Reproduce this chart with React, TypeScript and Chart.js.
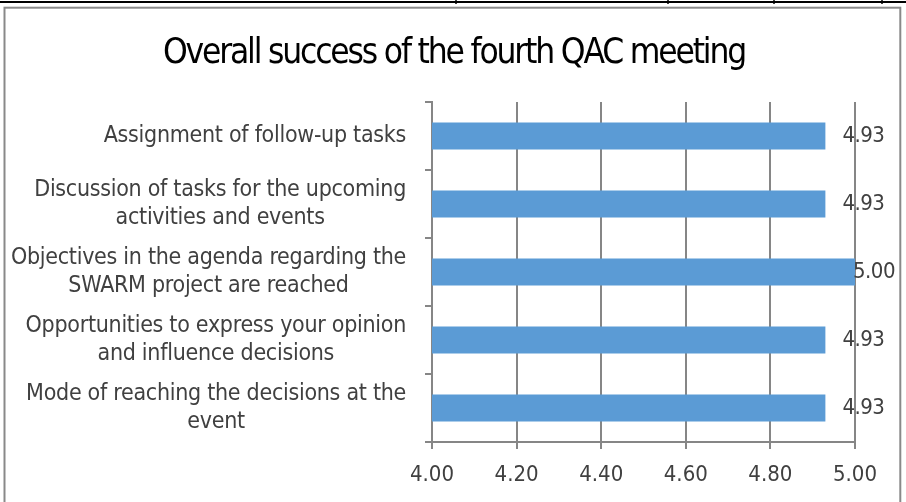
import { useEffect, useRef } from "react";
import { Chart, registerables } from "chart.js";

Chart.register(...registerables);

const TITLE = "Overall success of the fourth QAC meeting";
const CATEGORIES: string[][] = [
  ["Assignment of follow-up tasks"],
  ["Discussion of tasks for the upcoming", "activities and events"],
  ["Objectives in the agenda regarding the", "SWARM project are reached"],
  ["Opportunities to express your opinion", "and influence decisions"],
  ["Mode of reaching the decisions at the", "event"],
];
const VALUES: number[] = [4.93, 4.93, 5.0, 4.93, 4.93];
const X_MIN = 4.0;
const X_MAX = 5.0;
const X_STEP = 0.2;

const FONT = '"DejaVu Sans Condensed", "Liberation Sans Narrow", Roboto, sans-serif';
const GRID = "#868686";
const TEXT = "#404040";
const BAR = "#5B9BD5";

// compute letter spacing so that `text` at `font` has width `target`
function fitSpacing(ctx: CanvasRenderingContext2D, font: string, text: string, target: number) {
  ctx.save();
  ctx.font = font;
  (ctx as any).letterSpacing = "0px";
  const w = ctx.measureText(text).width;
  ctx.restore();
  return (target - w) / text.length;
}

const framePlugin = {
  id: "frame",
  beforeDraw(chart: any) {
    const ctx = chart.ctx;
    const W = chart.width;
    const H = chart.height;
    ctx.save();
    ctx.strokeStyle = "#898989";
    ctx.lineWidth = 2;
    ctx.strokeRect(4.5, 7.7, W - 10.2, H + 10);
    ctx.strokeStyle = "#000";
    ctx.lineWidth = 2;
    ctx.beginPath();
    ctx.moveTo(0, 2);
    ctx.lineTo(W, 2);
    ctx.stroke();
    ctx.lineWidth = 1.5;
    [456, 668, 774, 882].forEach((x) => {
      ctx.beginPath();
      ctx.moveTo(x, 0);
      ctx.lineTo(x, 4);
      ctx.stroke();
    });
    ctx.restore();
  },
};

const titlePlugin = {
  id: "customTitle",
  afterDraw(chart: any) {
    const ctx = chart.ctx;
    const font = `35px ${FONT}`;
    const ls = fitSpacing(ctx, font, TITLE, 582);
    ctx.save();
    ctx.font = font;
    (ctx as any).letterSpacing = `${ls}px`;
    ctx.fillStyle = "#000";
    ctx.textAlign = "left";
    ctx.textBaseline = "alphabetic";
    const w = ctx.measureText(TITLE).width;
    ctx.fillText(TITLE, 454 - w / 2, 63);
    ctx.restore();
  },
};

const categoryLabelPlugin = {
  id: "categoryLabels",
  afterDraw(chart: any) {
    const ctx = chart.ctx;
    const yScale = chart.scales.y;
    const labels: string[][] = chart.data.labels;
    const right = yScale.right - 26;
    const lh = 28.5;
    const font = `23px ${FONT}`;
    const ls = fitSpacing(ctx, font, "Objectives in the agenda regarding the", 395);
    ctx.save();
    ctx.font = font;
    (ctx as any).letterSpacing = `${ls}px`;
    ctx.fillStyle = TEXT;
    ctx.textAlign = "left";
    ctx.textBaseline = "middle";
    labels.forEach((lines, i) => {
      const yc = yScale.getPixelForValue(i);
      const widths = lines.map((l) => ctx.measureText(l).width);
      const bw = Math.max(...widths);
      const cx = right - bw / 2;
      lines.forEach((l, j) => {
        ctx.fillText(l, cx - widths[j] / 2, yc + (j - (lines.length - 1) / 2) * lh);
      });
    });
    ctx.restore();
  },
};

const valueLabelPlugin = {
  id: "valueLabels",
  afterDatasetsDraw(chart: any) {
    const ctx = chart.ctx;
    const meta = chart.getDatasetMeta(0);
    const data = chart.data.datasets[0].data as number[];
    ctx.save();
    ctx.font = `22px ${FONT}`;
    (ctx as any).letterSpacing = "-0.5px";
    ctx.fillStyle = TEXT;
    ctx.textAlign = "left";
    ctx.textBaseline = "middle";
    meta.data.forEach((bar: any, i: number) => {
      const txt = data[i].toFixed(2);
      const w = ctx.measureText(txt).width;
      const x = Math.min(bar.x + 17, chart.chartArea.right + 40 - w);
      ctx.fillText(txt, x, bar.y);
    });
    ctx.restore();
  },
};

export default function App() {
  const ref = useRef<HTMLCanvasElement | null>(null);

  useEffect(() => {
    if (!ref.current) return;
    const chart = new Chart(ref.current, {
      type: "bar",
      data: {
        labels: CATEGORIES as any,
        datasets: [
          {
            data: VALUES,
            backgroundColor: BAR,
            borderWidth: 0,
            barPercentage: 0.4,
            categoryPercentage: 1,
          },
        ],
      },
      options: {
        indexAxis: "y",
        animation: false,
        responsive: false,
        devicePixelRatio: 1,
        layout: { padding: { left: 0, right: 51, top: 102, bottom: 0 } },
        plugins: {
          legend: { display: false },
          tooltip: { enabled: false },
          title: { display: false },
        },
        scales: {
          x: {
            min: X_MIN,
            max: X_MAX,
            afterFit: (s: any) => {
              s.height = 60;
            },
            ticks: {
              stepSize: X_STEP,
              color: TEXT,
              padding: 13,
              font: { family: FONT, size: 22 },
              callback: (v: any) => Number(v).toFixed(2),
            },
            grid: {
              color: GRID,
              lineWidth: 2,
              drawTicks: true,
              tickLength: 7,
            },
            border: { display: true, color: GRID, width: 2 },
          },
          y: {
            afterFit: (s: any) => {
              s.width = 432;
            },
            ticks: { display: false },
            grid: {
              color: GRID,
              lineWidth: 2,
              drawOnChartArea: false,
              drawTicks: true,
              tickLength: 7,
              offset: true,
            },
            border: { display: true, color: GRID, width: 2 },
          },
        },
      },
      plugins: [framePlugin, titlePlugin, categoryLabelPlugin, valueLabelPlugin],
    } as any);
    return () => chart.destroy();
  }, []);

  return (
    <div style={{ position: "fixed", left: 0, top: 0, width: 906, height: 502, background: "#fff" }}>
      <canvas ref={ref} width={906} height={502} style={{ display: "block" }} />
    </div>
  );
}
